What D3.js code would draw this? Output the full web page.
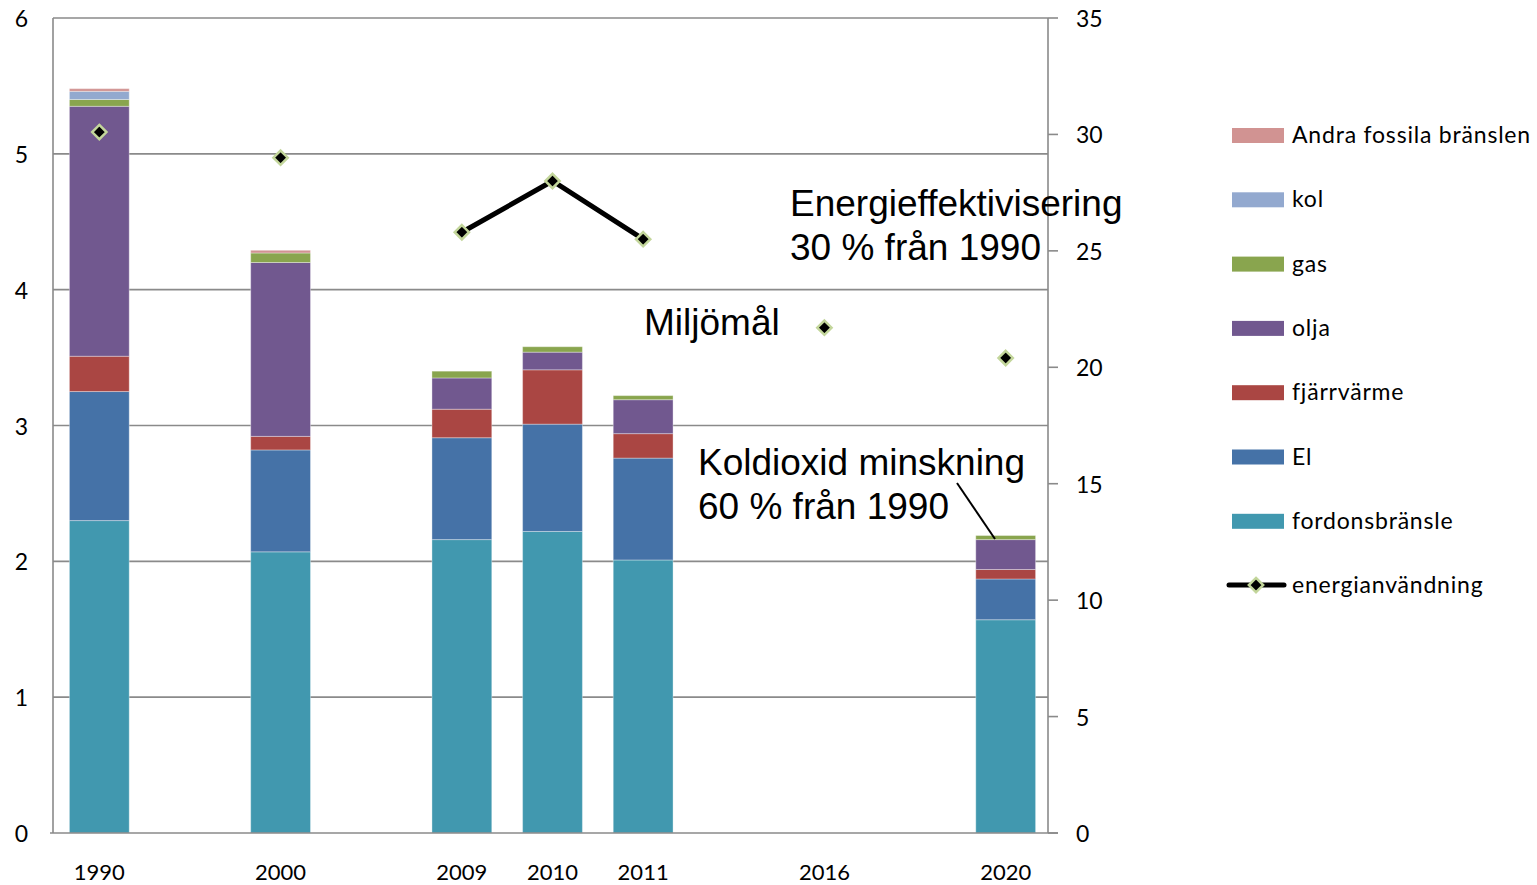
<!DOCTYPE html>
<html>
<head>
<meta charset="utf-8">
<script src="https://cdn.jsdelivr.net/npm/d3@7"></script>
<style>
  body { margin: 0; background: #fff; }
  svg text { font-family: Lato, "Open Sans", sans-serif; fill: #000; }
  .note { font-family: "Liberation Sans", Arial, sans-serif; font-size: 37px; }
  .leg { font-size: 23px; letter-spacing: 0.8px; }
  .tick { font-size: 23px; }
</style>
</head>
<body>
<script>

var w = 1537;
var h = 885;

// categories (blank ones are empty slots on the category axis)
var categories = ["1990", "", "2000", "", "2009", "2010", "2011", "", "2016", "", "2020"];

var fordonsbransle = [2.30, 0, 2.07, 0, 2.16, 2.22, 2.01, 0, 0, 0, 1.57];
var el             = [0.95, 0, 0.75, 0, 0.75, 0.79, 0.75, 0, 0, 0, 0.30];
var fjarrvarme     = [0.26, 0, 0.10, 0, 0.21, 0.40, 0.18, 0, 0, 0, 0.07];
var olja           = [1.84, 0, 1.28, 0, 0.23, 0.13, 0.25, 0, 0, 0, 0.22];
var gas            = [0.05, 0, 0.07, 0, 0.05, 0.04, 0.03, 0, 0, 0, 0.03];
var kol            = [0.06, 0, 0,    0, 0,    0,    0,    0, 0, 0, 0];
var andraFossila   = [0.02, 0, 0.02, 0, 0,    0,    0,    0, 0, 0, 0];

// right axis series
var energianvandning = [30.1, null, 29.0, null, 25.8, 28.0, 25.5, null, 21.7, null, 20.4];

var leftTicks = [0, 1, 2, 3, 4, 5, 6];
var rightTicks = [0, 5, 10, 15, 20, 25, 30, 35];

var seriesNames = ["fordonsbränsle", "El", "fjärrvärme", "olja", "gas", "kol", "Andra fossila bränslen"];
var seriesValues = [fordonsbransle, el, fjarrvarme, olja, gas, kol, andraFossila];
var colors = ["#4198AF", "#4572A7", "#AA4643", "#71588F", "#89A54E", "#93A9CF", "#D19392"];

var pLeft = 53, pRight = 1048, pTop = 18, pBottom = 833;

var svg = d3.select("body")
        .append("svg")
        .attr("width", w)
        .attr("height", h);

var table = categories.map(function(c, i) {
    var row = { idx: i };
    seriesNames.forEach(function(s, j) { row[s] = seriesValues[j][i]; });
    return row;
});

var x = d3.scaleBand()
        .domain(d3.range(categories.length))
        .range([pLeft + 1, pRight + 3])
        .paddingInner(0.34)
        .paddingOuter(0.17);

var y = d3.scaleLinear().domain([0, 6]).range([pBottom, pTop]);
var y2 = d3.scaleLinear().domain([0, 35]).range([pBottom, pTop]);

// gridlines
svg.append("g")
    .selectAll("line")
    .data(leftTicks.slice(1))
    .enter()
    .append("line")
    .attr("x1", pLeft)
    .attr("x2", pRight)
    .attr("y1", function(d) { return y(d); })
    .attr("y2", function(d) { return y(d); })
    .attr("stroke", "#8a8a8a")
    .attr("stroke-width", 1.6);

var stack = d3.stack().keys(seriesNames);
var layers = stack(table);

var groups = svg.selectAll("g.layer")
    .data(layers)
    .enter()
    .append("g")
    .attr("class", "layer")
    .attr("fill", function(d, i) { return colors[i]; });

groups.selectAll("rect")
    .data(function(d) { return d.filter(function(p) { return p[1] - p[0] > 0; }); })
    .enter()
    .append("rect")
    .attr("x", function(d) { return x(d.data.idx); })
    .attr("width", x.bandwidth())
    .attr("y", function(d) { return y(d[1]); })
    .attr("height", function(d) { return y(d[0]) - y(d[1]); })
    .attr("stroke", "#ffffff")
    .attr("stroke-opacity", 0.35)
    .attr("stroke-width", 1);

// axes lines
svg.append("line")
    .attr("x1", pLeft).attr("x2", pLeft)
    .attr("y1", pTop).attr("y2", pBottom)
    .attr("stroke", "#8a8a8a").attr("stroke-width", 1.6);
svg.append("line")
    .attr("x1", pRight).attr("x2", pRight)
    .attr("y1", pTop).attr("y2", pBottom)
    .attr("stroke", "#8a8a8a").attr("stroke-width", 1.6);
svg.append("line")
    .attr("x1", pLeft - 3).attr("x2", pRight + 10)
    .attr("y1", pBottom).attr("y2", pBottom)
    .attr("stroke", "#8a8a8a").attr("stroke-width", 1.6);

// left tick labels
svg.append("g")
    .selectAll("text")
    .data(leftTicks)
    .enter()
    .append("text")
    .attr("class", "tick")
    .attr("x", 28)
    .attr("y", function(d) { return y(d) + 9; })
    .attr("text-anchor", "end")
    .text(function(d) { return d; });

// right axis ticks + labels
var rAxis = svg.append("g");
rAxis.selectAll("line")
    .data(rightTicks)
    .enter()
    .append("line")
    .attr("x1", pRight)
    .attr("x2", pRight + 10)
    .attr("y1", function(d) { return y2(d); })
    .attr("y2", function(d) { return y2(d); })
    .attr("stroke", "#8a8a8a")
    .attr("stroke-width", 1.6);
rAxis.selectAll("text")
    .data(rightTicks)
    .enter()
    .append("text")
    .attr("class", "tick")
    .attr("x", 1076)
    .attr("y", function(d) { return y2(d) + 9; })
    .text(function(d) { return d; });

// category labels
svg.append("g")
    .selectAll("text")
    .data(categories)
    .enter()
    .append("text")
    .attr("x", function(d, i) { return x(i) + x.bandwidth() / 2; })
    .attr("y", 880)
    .attr("text-anchor", "middle")
    .style("font-size", "22px")
    .text(function(d) { return d; });

// energy line
var line = d3.line()
    .defined(function(d) { return d != null; })
    .x(function(d, i) { return x(i) + x.bandwidth() / 2; })
    .y(function(d) { return y2(d); });

svg.append("path")
    .datum(energianvandning)
    .attr("d", line)
    .attr("fill", "none")
    .attr("stroke", "#000")
    .attr("stroke-width", 5);

var diamond = d3.symbol().type(d3.symbolDiamond2).size(130);

svg.append("g")
    .selectAll("path")
    .data(energianvandning.map(function(v, i) { return { v: v, i: i }; }).filter(function(d) { return d.v != null; }))
    .enter()
    .append("path")
    .attr("d", diamond)
    .attr("transform", function(d) {
        return "translate(" + (x(d.i) + x.bandwidth() / 2) + "," + y2(d.v) + ")";
    })
    .attr("fill", "#000")
    .attr("stroke", "#c3d69b")
    .attr("stroke-width", 2.5);

// annotations
var notes = [
    { t: "Energieffektivisering", x: 790, y: 216 },
    { t: "30 % från 1990", x: 790, y: 260 },
    { t: "Miljömål", x: 644, y: 335 },
    { t: "Koldioxid minskning", x: 698, y: 475 },
    { t: "60 % från 1990", x: 698, y: 519 }
];
svg.append("g")
    .selectAll("text")
    .data(notes)
    .enter()
    .append("text")
    .attr("class", "note")
    .attr("x", function(d) { return d.x; })
    .attr("y", function(d) { return d.y; })
    .text(function(d) { return d.t; });

svg.append("line")
    .attr("x1", 957).attr("y1", 483)
    .attr("x2", 995).attr("y2", 539)
    .attr("stroke", "#000")
    .attr("stroke-width", 2);

// legend
var legendNames = seriesNames.slice().reverse();
var legendColors = colors.slice().reverse();
var legend = svg.append("g");
legendNames.forEach(function(name, i) {
    var cy = 135 + i * 64.3;
    legend.append("rect")
        .attr("x", 1232).attr("y", cy - 7)
        .attr("width", 52).attr("height", 15)
        .attr("fill", legendColors[i]);
    legend.append("text")
        .attr("class", "leg")
        .attr("x", 1292).attr("y", cy + 8)
        .text(name);
});
var ly = 135 + 7 * 64.3;
legend.append("line")
    .attr("x1", 1229).attr("x2", 1284)
    .attr("y1", ly).attr("y2", ly)
    .attr("stroke", "#000").attr("stroke-width", 5)
    .attr("stroke-linecap", "round");
legend.append("path")
    .attr("d", diamond)
    .attr("transform", "translate(1256," + ly + ")")
    .attr("fill", "#000")
    .attr("stroke", "#c3d69b")
    .attr("stroke-width", 2.5);
legend.append("text")
    .attr("class", "leg")
    .attr("x", 1292).attr("y", ly + 8)
    .text("energianvändning");

</script>
</body>
</html>
